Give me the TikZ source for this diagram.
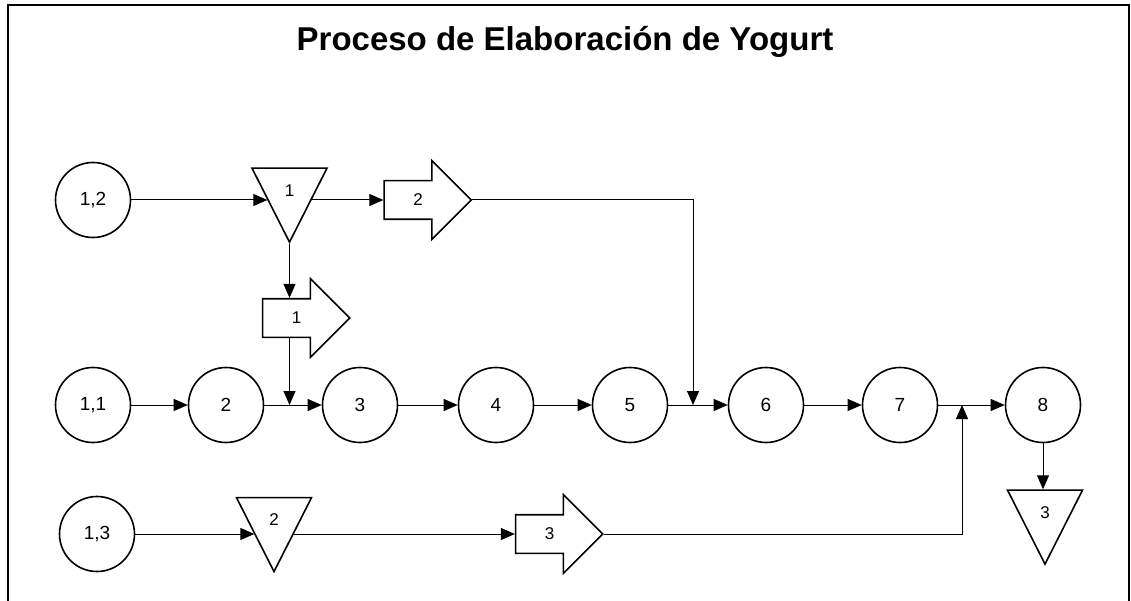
\documentclass[tikz,border=0pt]{standalone}
\usepackage{fontspec}
\setmainfont{Liberation Sans}
\usetikzlibrary{shapes.geometric,shapes.arrows,arrows.meta}

\begin{document}
\begin{tikzpicture}[x=1pt,y=-1pt,
            every node/.style = {line width=1.6pt, font=\fontsize{19}{21}\selectfont},
            op/.style = {draw, circle, minimum size=75pt, inner sep=0pt},
            store/.style = {draw, isosceles triangle, shape border rotate=270,
                isosceles triangle stretches, minimum width=75pt, minimum height=74pt,
                inner sep=0pt, font=\fontsize{17}{19}\selectfont},
            move/.style = {draw, single arrow, single arrow head extend=20pt,
                minimum height=87pt, minimum width=77pt, inner sep=0pt, inner ysep=13pt,
                text height=11pt, text depth=0pt, font=\fontsize{17}{19}\selectfont},
            flow/.style = {line width=1pt, -{Triangle[length=14pt,width=12pt]}}]
\useasboundingbox (0,0) rectangle (1131,601);
\draw[line width=2.5pt] (8,640) -- (8,5) -- (1129,5) -- (1129,640);

\node[font=\bfseries\fontsize{33}{37}\selectfont] (title) at (565,42) {Proceso de Elaboración de Yogurt};

% upper row
\node[op] (c12) at (93,200) {1,2};
\node[store] (t1) at (289.5,190.5) {1};
\node[move] (a2) at (418,200) {2};
\node[move] (a1) at (296.5,318) {1};

% main row
\node[op] (c11) at (93,405) {1,1};
\node[op] (c2) at (226,405) {2};
\node[op] (c3) at (360,405) {3};
\node[op] (c4) at (496,405) {4};
\node[op] (c5) at (630,405) {5};
\node[op] (c6) at (766,405) {6};
\node[op] (c7) at (900,405) {7};
\node[op] (c8) at (1043,405) {8};
\node[store] (t3) at (1045,512.5) {3};

% lower row
\node[op] (c13) at (97,534) {1,3};
\node[store] (t2) at (274,520) {2};
\node[move] (a3) at (549.5,534) {3};

\coordinate (j1) at (t1.apex |- c2);
\coordinate (j2) at (693,405);
\coordinate (j3) at (962,405);

\draw[flow] (c12) -- (c12 -| t1.204);
\draw[flow] (a2 -| t1.336) -- (a2.tail);
\draw[flow] (t1.apex) -- (t1.apex |- a1.north);
\draw[flow] (t1.apex |- a1.south) -- (j1);
\draw[flow] (a2.tip) -| (j2);

\draw[flow] (c11) -- (c2);
\draw[flow] (c2) -- (c3);
\draw[flow] (c3) -- (c4);
\draw[flow] (c4) -- (c5);
\draw[flow] (c5) -- (c6);
\draw[flow] (c6) -- (c7);
\draw[flow] (c7) -- (c8);
\draw[flow] (c8) -- (c8 |- t3.90);

\draw[flow] (c13) -- (c13 -| t2.217);
\draw[flow] (a3 -| t2.323) -- (a3.tail);
\draw[flow] (a3.tip) -| (j3);

\end{tikzpicture}
\end{document}
